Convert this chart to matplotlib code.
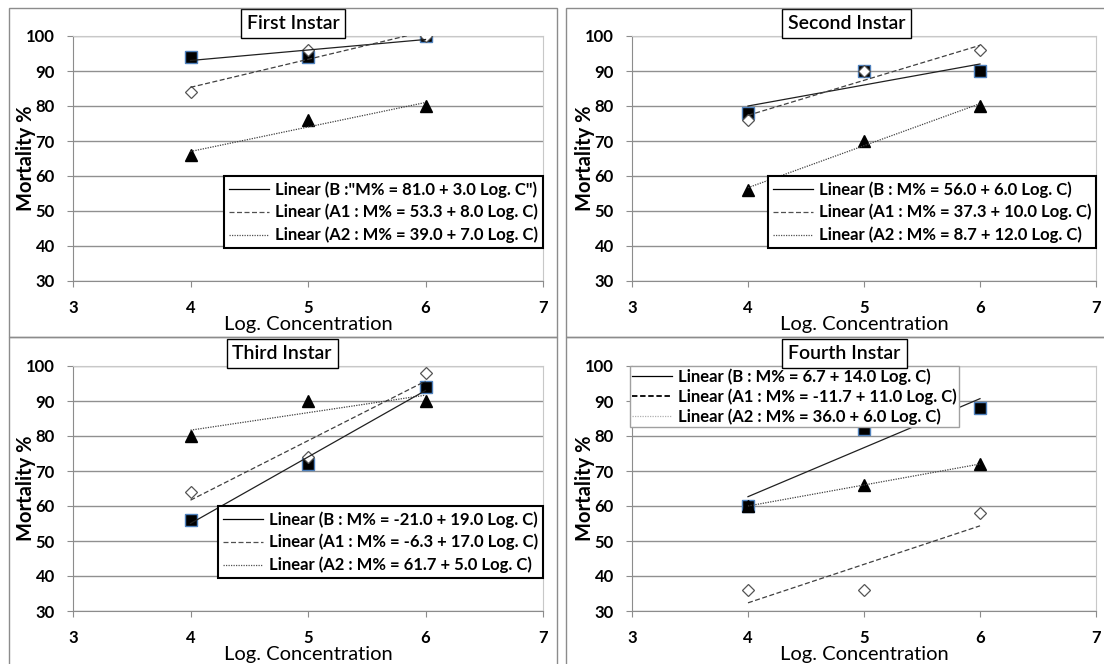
import numpy as np
import matplotlib.pyplot as plt
from matplotlib.patches import Rectangle
from matplotlib.lines import Line2D

plt.rcParams['font.family'] = ['Lato', 'DejaVu Sans']

# data
log_conc = [4, 5, 6]
titles = ["First Instar", "Second Instar", "Third Instar", "Fourth Instar"]

b_vals = [[94, 94, 100], [78, 90, 90], [56, 72, 94], [60, 82, 88]]
a1_vals = [[84, 96, 100], [76, 90, 96], [64, 74, 98], [36, 36, 58]]
a2_vals = [[66, 76, 80], [56, 70, 80], [80, 90, 90], [60, 66, 72]]

legend_labels = [
    ['Linear (B :"M% = 81.0 + 3.0 Log. C")',
     "Linear (A1 : M% = 53.3 + 8.0 Log. C)",
     "Linear (A2 : M% = 39.0 + 7.0 Log. C)"],
    ["Linear (B : M% = 56.0 + 6.0 Log. C)",
     "Linear (A1 : M% = 37.3 + 10.0 Log. C)",
     "Linear (A2 : M% = 8.7 + 12.0 Log. C)"],
    ["Linear (B : M% = -21.0 + 19.0 Log. C)",
     "Linear (A1 : M% = -6.3 + 17.0 Log. C)",
     "Linear (A2 : M% = 61.7 + 5.0 Log. C)"],
    ["Linear (B : M% = 6.7 + 14.0 Log. C)",
     "Linear (A1 : M% = -11.7 + 11.0 Log. C)",
     "Linear (A2 : M% = 36.0 + 6.0 Log. C)"],
]

x_ticks = [3, 4, 5, 6, 7]
y_ticks = [30, 40, 50, 60, 70, 80, 90, 100]

W, H = 1104, 664
fig = plt.figure(figsize=(W / 100, H / 100), dpi=100)

# panel frames (pixels: left, top, right, bottom)
frames = [(9, 8, 557, 337), (566, 8, 1110, 337), (9, 337, 557, 700), (566, 337, 1110, 700)]
for l, t, r, b in frames:
    fig.patches.append(Rectangle((l / W, 1 - b / H), (r - l) / W, (b - t) / H,
                                 transform=fig.transFigure, fill=False,
                                 ec='#8c8c8c', lw=1))

# axes positions in pixels: left, top, width of plot area
ax_pos = [(73, 36, 470), (632, 36, 464), (73, 366, 470), (632, 366, 464)]
ah = 245

title_x = [0.468, 0.463, 0.445, 0.458]
leg_loc = ['upper right', 'upper right', 'upper right', 'upper left']
leg_anchor = [(1.0, 0.4286), (1.0, 0.4286), (1.0, 0.4286), (-0.005, 1.0)]
leg_spacing = [0.38, 0.38, 0.38, 0.2]
leg_pad = [0.3, 0.3, 0.3, 0.15]

for i in range(4):
    px, py, aw = ax_pos[i]
    ax = fig.add_axes([px / W, 1 - (py + ah) / H, aw / W, ah / H])

    ax.plot(log_conc, b_vals[i], 's', ms=8.5, mfc='black', mec='#4f81bd', mew=1, zorder=3)
    ax.plot(log_conc, a1_vals[i], 'D', ms=6, mfc='white', mec='#555555', mew=0.9, zorder=4)
    ax.plot(log_conc, a2_vals[i], '^', ms=9, mfc='black', mec='black', zorder=3)

    x = np.array(log_conc)
    styles = [(None, '#202020'), ((4, 2), '#404040'), ((1, 1), '#404040')]
    for vals, (dash, col) in zip([b_vals[i], a1_vals[i], a2_vals[i]], styles):
        coef = np.polyfit(x, vals, 1)
        line, = ax.plot(x, np.polyval(coef, x), color=col, lw=0.9, zorder=5)
        if dash:
            line.set_dashes(dash)

    if i == 3:
        handles = [Line2D([], [], color='black', lw=0.9),
                   Line2D([], [], color='black', lw=1.3, dashes=(3, 1.5)),
                   Line2D([], [], color='#b0b0b0', lw=0.9, dashes=(1, 1))]
    else:
        handles = [Line2D([], [], color='black', lw=0.9),
                   Line2D([], [], color='#505050', lw=0.9, dashes=(4, 2)),
                   Line2D([], [], color='#505050', lw=0.9, dashes=(1, 1))]
    leg = ax.legend(handles, legend_labels[i], loc=leg_loc[i], bbox_to_anchor=leg_anchor[i],
                    borderaxespad=0, fancybox=False, framealpha=1, handlelength=2.4,
                    handletextpad=0.35, labelspacing=leg_spacing[i], borderpad=leg_pad[i],
                    prop={'weight': 'bold', 'size': 12})
    leg.get_frame().set_edgecolor('#a0a0a0' if i == 3 else 'black')
    leg.get_frame().set_linewidth(1.0 if i == 3 else 1.5)
    leg.set_zorder(8)

    ax.set_xlim(3, 7)
    ax.set_ylim(30, 100)
    ax.set_xticks(x_ticks, [str(v) for v in x_ticks], fontweight='bold')
    ax.set_yticks(y_ticks, [str(v) for v in y_ticks], fontweight='bold')
    ax.tick_params(axis='x', direction='out', length=4, color='#8c8c8c', labelsize=12, pad=10)
    ax.tick_params(axis='y', direction='out', length=4, color='#8c8c8c', labelsize=12, pad=9)
    ax.yaxis.grid(True, color='#909090', lw=1)
    ax.set_axisbelow(True)
    for s in ['top', 'right']:
        ax.spines[s].set_color('#c8c8c8')
    for s in ['left', 'bottom']:
        ax.spines[s].set_color('#8c8c8c')

    ax.set_xlabel("Log. Concentration", fontsize=14.5, labelpad=0)
    ax.set_ylabel("Mortality %", fontsize=14.5, fontweight='bold')
    ax.yaxis.set_label_coords(-0.079, 0.5)

    ax.text(title_x[i], 1.05, titles[i], transform=ax.transAxes, ha='center', va='center',
            fontsize=14, fontweight='semibold', zorder=10, clip_on=False,
            bbox=dict(boxstyle='square,pad=0.3', fc='white', ec='black', lw=1))

fig.savefig('out.png', dpi=100)
